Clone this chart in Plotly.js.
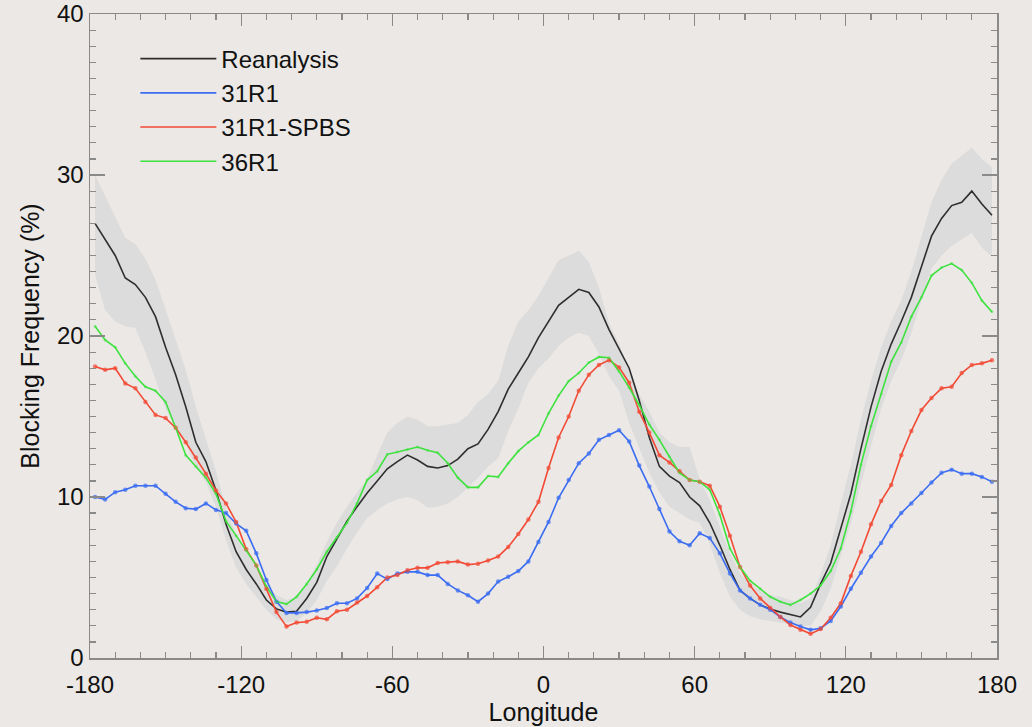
<!DOCTYPE html>
<html>
<head>
<meta charset="utf-8">
<script src="https://cdn.plot.ly/plotly-3.0.1.min.js"></script>
<style>
html,body{margin:0;padding:0;background:#ebe8e5;}
#chart{width:1032px;height:727px;}
</style>
</head>
<body>
<div id="chart"></div>
<script>
// Longitudes of the data points (degrees)
const lon = [-178,-174,-170,-166,-162,-158,-154,-150,-146,-142,
  -138,-134,-130,-126,-122,-118,-114,-110,-106,-102,
  -98,-94,-90,-86,-82,-78,-74,-70,-66,-62,
  -58,-54,-50,-46,-42,-38,-34,-30,-26,-22,
  -18,-14,-10,-6,-2,2,6,10,14,18,
  22,26,30,34,38,42,46,50,54,58,
  62,66,70,74,78,82,86,90,94,98,
  102,106,110,114,118,122,126,130,134,138,
  142,146,150,154,158,162,166,170,174,178];

// Reanalysis blocking frequency (%)
const reanalysis = [27.0,26.0,25.0,23.6,23.2,22.4,21.2,19.3,17.6,15.6,
  13.4,12.2,10.4,8.3,6.6,5.5,4.6,3.6,3.05,2.85,
  2.9,3.7,4.7,6.3,7.4,8.5,9.4,10.25,11.0,11.75,
  12.2,12.6,12.3,11.9,11.8,11.95,12.35,13.0,13.3,14.2,
  15.3,16.7,17.7,18.7,19.9,20.9,21.9,22.4,22.9,22.7,
  21.8,20.4,19.2,18.0,16.0,13.7,11.9,11.3,10.9,10.0,
  9.45,8.4,7.0,5.5,4.2,3.7,3.3,3.05,2.85,2.7,
  2.55,3.15,4.6,5.9,8.0,10.2,13.0,15.6,17.8,19.5,
  20.9,22.4,24.3,26.2,27.3,28.1,28.3,29.0,28.2,27.5];

// Reanalysis uncertainty band: upper and lower edges (%)
const bandUpper = [30.0,28.7,27.5,26.1,25.7,24.8,23.5,21.7,19.8,17.9,
  15.6,13.6,11.6,9.3,7.6,6.6,5.6,4.6,3.9,3.6,
  3.8,4.6,5.8,7.2,8.4,9.4,10.3,11.1,12.6,14.0,
  14.6,15.0,14.8,14.4,14.4,14.5,14.6,15.1,15.9,16.4,
  17.2,19.4,20.9,21.6,22.5,23.6,24.7,25.0,25.3,24.6,
  23.0,20.8,19.5,17.8,16.4,15.3,14.0,13.4,13.1,13.1,
  11.1,9.8,8.2,6.5,5.3,4.6,4.2,3.9,3.8,3.6,
  3.4,3.7,5.2,7.0,9.6,12.0,14.8,17.2,19.3,20.9,
  22.2,24.0,26.2,28.3,29.7,30.7,31.2,31.7,31.0,30.5];
const bandLower = [23.8,21.6,20.9,20.6,20.5,19.0,17.3,15.5,14.3,13.3,
  11.9,10.9,9.4,7.3,5.6,4.6,3.8,3.0,2.4,2.2,
  2.3,2.8,3.6,4.8,5.7,6.8,7.8,8.7,9.2,9.6,
  9.85,10.0,9.8,9.35,9.4,9.6,10.0,10.6,11.2,11.9,
  12.4,14.1,15.5,17.1,18.0,18.6,19.4,19.9,20.2,20.0,
  18.9,17.5,16.6,14.6,13.0,11.5,10.3,9.4,9.0,8.6,
  8.4,7.1,5.3,3.8,3.0,2.6,2.4,2.3,2.2,2.1,
  2.0,2.0,2.9,4.3,6.3,8.4,10.8,13.1,15.5,17.2,
  18.5,20.2,22.2,24.2,25.0,25.6,26.0,26.4,25.5,24.9];

// 31R1
const r31 = [10.0,9.85,10.3,10.45,10.7,10.7,10.7,10.2,9.7,9.3,
  9.25,9.6,9.2,9.0,8.35,7.9,6.5,4.85,3.5,2.8,
  2.8,2.85,2.95,3.1,3.4,3.4,3.7,4.35,5.25,4.9,
  5.25,5.35,5.35,5.15,5.15,4.6,4.2,3.9,3.5,4.0,
  4.75,5.05,5.4,6.0,7.2,8.45,9.95,11.05,12.1,12.7,
  13.55,13.85,14.15,13.45,11.95,10.65,9.25,7.85,7.25,7.0,
  7.75,7.45,6.5,5.25,4.2,3.7,3.3,3.0,2.55,2.2,
  1.95,1.75,1.85,2.3,3.2,4.3,5.3,6.3,7.15,8.2,
  9.0,9.6,10.25,10.9,11.5,11.7,11.45,11.45,11.25,10.95];

// 31R1-SPBS
const r31spbs = [18.1,17.9,18.0,17.05,16.75,15.9,15.1,14.9,14.3,13.4,
  12.45,11.45,10.4,9.6,8.45,6.75,5.75,4.3,2.85,1.95,
  2.2,2.25,2.5,2.4,2.9,3.0,3.45,3.85,4.4,5.0,
  5.15,5.45,5.6,5.6,5.9,5.95,6.0,5.8,5.85,6.05,
  6.3,6.9,7.7,8.6,9.7,11.8,13.7,15.0,16.6,17.6,
  18.2,18.5,18.05,17.1,15.3,14.0,12.6,12.15,11.6,11.05,
  10.95,10.7,9.4,7.6,5.65,4.5,3.7,3.1,2.55,2.05,
  1.75,1.5,1.8,2.5,3.4,5.1,6.6,8.3,9.75,10.75,
  12.6,14.1,15.4,16.15,16.75,16.85,17.7,18.2,18.3,18.5];

// 36R1
const r36 = [20.6,19.75,19.3,18.3,17.5,16.85,16.6,15.9,14.3,12.6,
  11.9,11.2,10.2,8.5,7.6,6.7,5.75,4.45,3.5,3.35,
  3.8,4.6,5.5,6.6,7.5,8.4,9.6,11.05,11.6,12.65,
  12.8,12.95,13.1,12.9,12.75,12.1,11.2,10.6,10.6,11.3,
  11.25,12.1,12.85,13.4,13.85,15.2,16.3,17.2,17.7,18.35,
  18.7,18.65,17.8,16.8,15.7,14.5,13.55,12.5,11.5,11.05,
  10.95,10.45,8.9,6.8,5.65,4.8,4.3,3.8,3.5,3.3,
  3.6,4.0,4.5,5.4,6.8,9.1,12.0,14.4,16.4,18.4,
  19.6,21.2,22.4,23.75,24.25,24.5,24.1,23.3,22.2,21.5];

const seriesNames = ["Reanalysis","31R1","31R1-SPBS","36R1"];
const xTicks = [-180,-120,-60,0,60,120,180];
const yTicks = [0,10,20,30,40];

const bg = "#ebe8e5";
const cBand = "#dcdcdc";
const cBlack = "#2e2e2e";
const cBlue = "#3b6cf2";
const cRed = "#f24a35";
const cGreen = "#3ee23e";

function lineTrace(y, name, color) {
  return {x: lon, y: y, name: name, mode: "lines", line: {color: color, width: 1.6}, legendgroup: name};
}
function markerTrace(y, name, color, size, op) {
  return {x: lon, y: y, name: name, mode: "markers", marker: {size: size, color: color, opacity: op},
          showlegend: false, legendgroup: name, hoverinfo: "skip"};
}

const traces = [
  {x: lon, y: bandLower, mode: "lines", line: {width: 0, color: cBand}, showlegend: false, hoverinfo: "skip"},
  {x: lon, y: bandUpper, mode: "lines", line: {width: 0, color: cBand}, fill: "tonexty", fillcolor: cBand, showlegend: false, hoverinfo: "skip"},
  lineTrace(reanalysis, seriesNames[0], cBlack),
  lineTrace(r31, seriesNames[1], cBlue),
  lineTrace(r31spbs, seriesNames[2], cRed),
  lineTrace(r36, seriesNames[3], cGreen),
  markerTrace(r31, seriesNames[1], cBlue, 4.5, 0.7),
  markerTrace(r31spbs, seriesNames[2], cRed, 4.5, 0.7),
  markerTrace(r36, seriesNames[3], cGreen, 3, 0.5)
];

const fontFam = "Liberation Sans, Arial, Helvetica, sans-serif";
const axisCommon = {
  showgrid: false, zeroline: false, showline: true, linecolor: "#8a8a8a", linewidth: 1.5,
  mirror: "allticks", ticks: "inside", tickcolor: "#8a8a8a", tickwidth: 1.2,
  tickfont: {family: fontFam, size: 24, color: "#111"}
};

const layout = {
  width: 1032, height: 727,
  paper_bgcolor: bg, plot_bgcolor: bg,
  margin: {l: 90, r: 35, t: 14, b: 69},
  showlegend: true,
  legend: {
    x: 0.05, y: 0.965, xanchor: "left", yanchor: "top",
    traceorder: "normal", itemwidth: 76,
    bgcolor: "rgba(0,0,0,0)", borderwidth: 0,
    font: {family: fontFam, size: 24, color: "#111"},
    itemclick: false, tracegroupgap: 0
  },
  xaxis: Object.assign({}, axisCommon, {
    range: [-180, 180], tickvals: xTicks, ticktext: xTicks.map(String), ticklen: 12,
    ticklabelstandoff: 5,
    minor: {dtick: 10, ticklen: 6, ticks: "inside", tickcolor: "#8a8a8a", tickwidth: 1.2, showgrid: false},
    title: {text: "Longitude", font: {family: fontFam, size: 25, color: "#111"}, standoff: 4}
  }),
  yaxis: Object.assign({}, axisCommon, {
    range: [0, 40], tickvals: yTicks, ticktext: yTicks.map(String), ticklen: 15,
    minor: {dtick: 1, ticklen: 6, ticks: "inside", tickcolor: "#8a8a8a", tickwidth: 1.2, showgrid: false},
    title: {text: "Blocking Frequency (%)", font: {family: fontFam, size: 25, color: "#111"}, standoff: 10}
  })
};

Plotly.newPlot("chart", traces, layout, {displayModeBar: false, staticPlot: true});
</script>
</body>
</html>
